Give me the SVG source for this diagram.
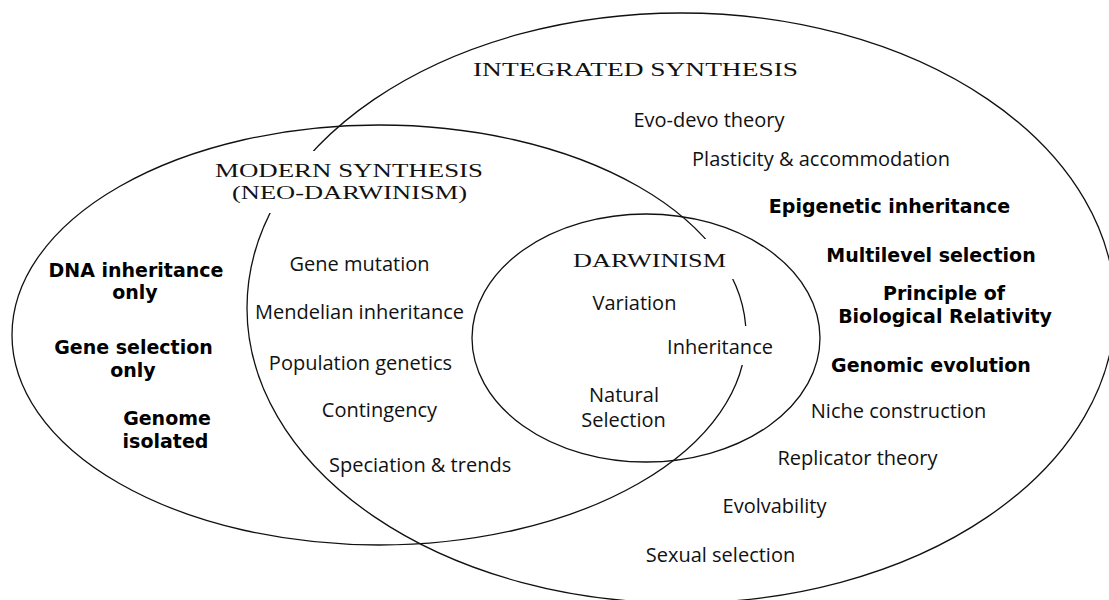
<svg xmlns="http://www.w3.org/2000/svg" width="1109" height="600" viewBox="0 0 1109 600">
<style>
.ring{fill:none;stroke:#111;stroke-width:1.3}
.mask{fill:#fff;stroke:none}
.title{font-family:"Liberation Serif","Times New Roman",serif;font-size:19px;fill:#111;text-anchor:middle}
.reg{font-family:"Open Sans","Liberation Sans",sans-serif;font-size:20px;fill:#111;text-anchor:middle}
.bold{font-family:"DejaVu Sans","Liberation Sans",sans-serif;font-weight:bold;font-size:19px;fill:#000;text-anchor:middle}
</style>
<rect width="1109" height="600" fill="#fff"/>
<g id="shapes">
<ellipse id="integrated-ring" class="ring" cx="681" cy="308" rx="434" ry="295"/>
<ellipse id="modern-ring" class="ring" cx="379" cy="335" rx="367" ry="210"/>
<ellipse id="darwinism-ring" class="ring" cx="646" cy="338" rx="174" ry="124"/>
</g>
<g id="integrated-synthesis">
<text class="title" x="635.5" y="76" textLength="325" lengthAdjust="spacingAndGlyphs">INTEGRATED SYNTHESIS</text>
<text class="reg" x="709" y="127">Evo-devo theory</text>
<text class="reg" x="821" y="166">Plasticity &amp; accommodation</text>
<text class="bold" x="889.5" y="213">Epigenetic inheritance</text>
<text class="bold" x="931" y="262">Multilevel selection</text>
<text class="bold" x="944" y="300">Principle of</text>
<text class="bold" x="945" y="323">Biological Relativity</text>
<text class="bold" x="931" y="372">Genomic evolution</text>
<text class="reg" x="898.5" y="418">Niche construction</text>
<text class="reg" x="857.5" y="465">Replicator theory</text>
<text class="reg" x="774.5" y="513">Evolvability</text>
<text class="reg" x="720.5" y="562">Sexual selection</text>
</g>
<g id="modern-synthesis">
<rect class="mask" x="210" y="151" width="278" height="62"/>
<text class="title" x="349" y="177" textLength="268" lengthAdjust="spacingAndGlyphs">MODERN SYNTHESIS</text>
<text class="title" x="349.5" y="199" textLength="235" lengthAdjust="spacingAndGlyphs">(NEO-DARWINISM)</text>
<text class="bold" x="136" y="277">DNA inheritance</text>
<text class="bold" x="135" y="299">only</text>
<text class="bold" x="133.5" y="354">Gene selection</text>
<text class="bold" x="133" y="377">only</text>
<text class="bold" x="167" y="425">Genome</text>
<text class="bold" x="165.5" y="448">isolated</text>
<text class="reg" x="359.5" y="271">Gene mutation</text>
<text class="reg" x="359.5" y="319">Mendelian inheritance</text>
<text class="reg" x="360.5" y="370">Population genetics</text>
<text class="reg" x="379.5" y="417">Contingency</text>
<text class="reg" x="329" y="472" style="text-anchor:start">Speciation &amp; trends</text>
</g>
<g id="darwinism">
<rect class="mask" x="565" y="239" width="171" height="40"/>
<text class="title" x="649.5" y="267" textLength="153" lengthAdjust="spacingAndGlyphs">DARWINISM</text>
<text class="reg" x="634.5" y="310">Variation</text>
<rect class="mask" x="664" y="326" width="112" height="39"/>
<text class="reg" x="720" y="354">Inheritance</text>
<text class="reg" x="624" y="402">Natural</text>
<text class="reg" x="623.5" y="427">Selection</text>
</g>
</svg>
